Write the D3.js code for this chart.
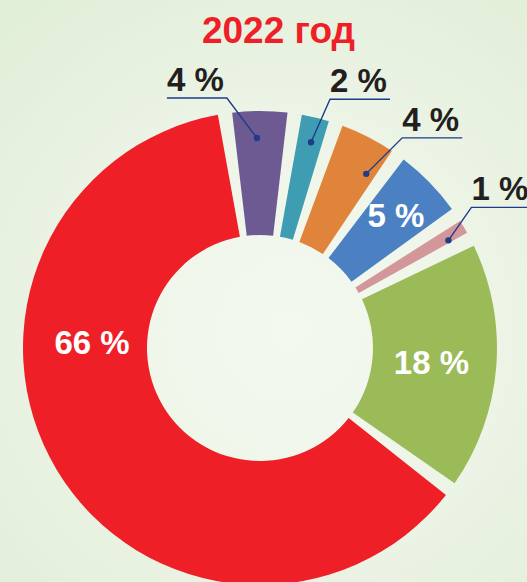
<!DOCTYPE html>
<html>
<head>
<meta charset="utf-8">
<script src="https://cdn.jsdelivr.net/npm/d3@7"></script>
<style>
  html, body { margin: 0; padding: 0; background: #e6f1df; }
  svg { display: block; }
</style>
</head>
<body>
<svg id="chart" width="527" height="582"></svg>
<script>
// ---- data ----
const title = "2022 год";
const categories = ["Сегмент 1", "Сегмент 2", "Сегмент 3", "Сегмент 4", "Сегмент 5", "Сегмент 6", "Сегмент 7"];
const values = [4, 2, 4, 5, 1, 18, 66];
const valueLabels = ["4 %", "2 %", "4 %", "5 %", "1 %", "18 %", "66 %"];
const colors = ["#6e5a93", "#3e9db2", "#e0843b", "#4b81c2", "#d49799", "#9bbb59", "#ee1f27"];

// ---- annotation layout (not data) ----
const outsideLabel = [true, true, true, false, true, false, false];
const leaderFrac = [0.44, 0.56, 0.82, null, 0.8, null, null];   // position of dot within slice
const leaderRadius = [210, 212, 204, null, 217, null, null];
const leaderElbow = [[-30, -40], [19, -43], [36, -36], null, [23, -33], null, null];
const insideLabelAngle = [null, null, null, null, null, null, -88]; // degrees, override for big slice

const W = 527, H = 582;
const cx = 260, cy = 348;
const rInner = 113, rOuter = 237;
const gap = 3.5 * Math.PI / 180;
const start = -8.5 * Math.PI / 180;

const svg = d3.select("#chart");
const defs = svg.append("defs");
const grad = defs.append("radialGradient").attr("id", "bg")
  .attr("gradientUnits", "userSpaceOnUse")
  .attr("cx", 290).attr("cy", 330).attr("r", 420);
grad.append("stop").attr("offset", "0%").attr("stop-color", "#f4f9f0");
grad.append("stop").attr("offset", "45%").attr("stop-color", "#eef5e8");
grad.append("stop").attr("offset", "100%").attr("stop-color", "#e1eed7");
svg.append("rect").attr("width", W).attr("height", H).attr("fill", "url(#bg)");

svg.append("text")
  .attr("x", 278.5).attr("y", 43)
  .attr("text-anchor", "middle")
  .attr("font-family", "'Liberation Sans', Arial, sans-serif")
  .attr("font-weight", "bold")
  .attr("font-size", 37)
  .attr("fill", "#ee1f27")
  .text(title);

const data = categories.map((c, i) => ({ cat: c, value: values[i], label: valueLabels[i], color: colors[i], i }));

const pie = d3.pie().sort(null).value(d => d.value)
  .startAngle(start).endAngle(start + 2 * Math.PI).padAngle(gap);
const arcsData = pie(data).map(a => ({
  data: a.data,
  startAngle: a.startAngle + gap / 2,
  endAngle: a.endAngle - gap / 2,
  padAngle: 0
}));

const arc = d3.arc().innerRadius(rInner).outerRadius(rOuter);
const g = svg.append("g").attr("transform", `translate(${cx},${cy})`);

g.selectAll("path.slice").data(arcsData).join("path")
  .attr("class", "slice")
  .attr("d", arc)
  .attr("fill", d => d.data.color);

const polar = (r, a) => [r * Math.sin(a), -r * Math.cos(a)];
const font = "'Liberation Sans', Arial, sans-serif";
const fs = 33;

// inside labels
arcsData.filter(d => !outsideLabel[d.data.i]).forEach(d => {
  const i = d.data.i;
  let a = (d.startAngle + d.endAngle) / 2;
  let r = d.data.value > 10 ? 172 : 190;
  if (insideLabelAngle[i] !== null) { a = insideLabelAngle[i] * Math.PI / 180; r = 168; }
  const p = polar(r, a);
  g.append("text")
    .attr("x", p[0]).attr("y", p[1] + fs * 0.36)
    .attr("text-anchor", "middle")
    .attr("font-family", font).attr("font-weight", "bold").attr("font-size", fs)
    .attr("fill", "#ffffff")
    .text(d.data.label);
});

// outside labels with leader lines
const lineLen = 60;
arcsData.filter(d => outsideLabel[d.data.i]).forEach(d => {
  const i = d.data.i;
  const a = d.startAngle + (d.endAngle - d.startAngle) * leaderFrac[i];
  const dot = polar(leaderRadius[i], a);
  const e = leaderElbow[i];
  const elbow = [dot[0] + e[0], dot[1] + e[1]];
  const dir = e[0] < 0 ? -1 : 1;
  const end = [elbow[0] + dir * lineLen, elbow[1]];
  g.append("path")
    .attr("d", d3.line()([dot, elbow, end]))
    .attr("fill", "none").attr("stroke", "#1f3b8a").attr("stroke-width", 1.4);
  g.append("circle").attr("cx", dot[0]).attr("cy", dot[1]).attr("r", 3.2).attr("fill", "#1f3b8a");
  const tx = Math.min(elbow[0], end[0]);
  g.append("text")
    .attr("x", tx).attr("y", elbow[1] - 7)
    .attr("font-family", font).attr("font-weight", "bold").attr("font-size", fs)
    .attr("fill", "#231f20")
    .text(d.data.label);
});
</script>
</body>
</html>
